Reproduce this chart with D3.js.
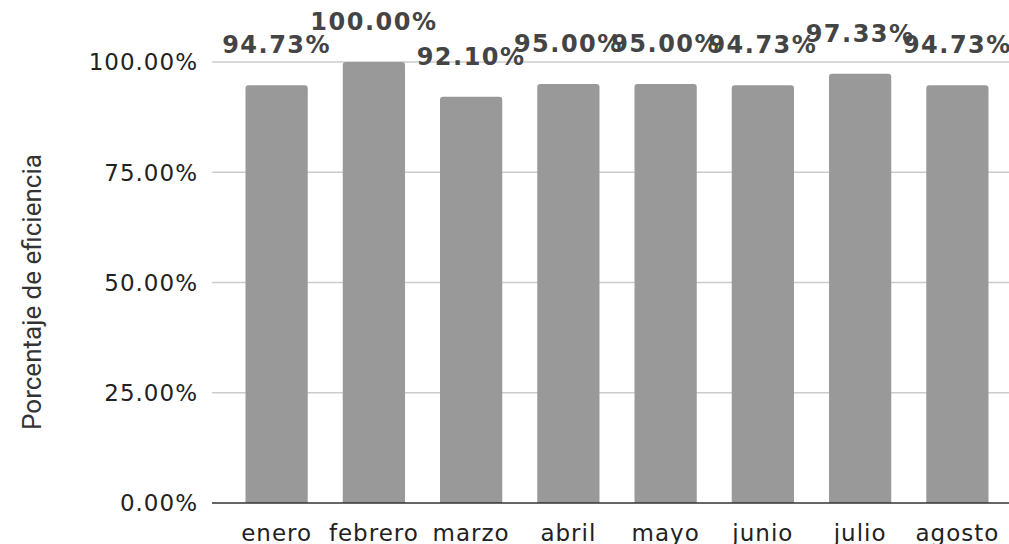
<!DOCTYPE html>
<html>
<head>
<meta charset="utf-8">
<script src="https://cdn.jsdelivr.net/npm/d3@7"></script>
<style>
  body { margin: 0; background: #fff; }
</style>
</head>
<body>
<svg id="chart"></svg>
<script>
// months and efficiency values (fraction)
const months = ["enero", "febrero", "marzo", "abril", "mayo", "junio", "julio", "agosto"];
const efficiency = [0.9473, 1.0, 0.9210, 0.95, 0.95, 0.9473, 0.9733, 0.9473];
const yTicks = [0, 0.25, 0.5, 0.75, 1.0];

const width = 1009, height = 544;
const margin = { top: 62, bottom: 41, left: 228, right: 3 };

const svg = d3.select("#chart")
    .attr("width", width)
    .attr("height", height);

const data = months.map((m, i) => ({ month: m, value: efficiency[i] }));

const xScale = d3.scaleBand()
    .domain(months)
    .range([margin.left, width - margin.right])
    .paddingInner(0.36)
    .paddingOuter(0.18);

const yScale = d3.scaleLinear()
    .domain([0, 1])
    .range([height - margin.bottom, margin.top]);

const fmt = d3.format(".2%");

// gridlines
svg.append("g")
    .selectAll("line")
    .data(yTicks.filter(d => d > 0))
    .join("line")
      .attr("x1", 212)
      .attr("x2", width)
      .attr("y1", d => yScale(d))
      .attr("y2", d => yScale(d))
      .attr("stroke", "#cccccc")
      .attr("stroke-width", 1.5);

// y tick labels
svg.append("g")
    .selectAll("text")
    .data(yTicks)
    .join("text")
      .attr("x", 198)
      .attr("y", d => yScale(d))
      .attr("dy", "0.36em")
      .attr("text-anchor", "end")
      .attr("font-family", "DejaVu Sans, Verdana, sans-serif")
      .attr("font-size", "23px")
      .attr("letter-spacing", "1px")
      .attr("fill", "#222")
      .text(d => fmt(d));

// bars with rounded tops
const r = 3;
svg.append("g")
    .selectAll("path")
    .data(data)
    .join("path")
      .attr("fill", "#999999")
      .attr("d", d => {
        const x0 = xScale(d.month), w = xScale.bandwidth();
        const y0 = yScale(d.value), y1 = yScale(0);
        return `M${x0},${y1} L${x0},${y0 + r} Q${x0},${y0} ${x0 + r},${y0}` +
               ` L${x0 + w - r},${y0} Q${x0 + w},${y0} ${x0 + w},${y0 + r} L${x0 + w},${y1} Z`;
      });

// baseline
svg.append("line")
    .attr("x1", 212)
    .attr("x2", width)
    .attr("y1", yScale(0))
    .attr("y2", yScale(0))
    .attr("stroke", "#333")
    .attr("stroke-width", 1.5);

// value labels
svg.append("g")
    .selectAll("text")
    .data(data)
    .join("text")
      .attr("x", d => xScale(d.month) + xScale.bandwidth() / 2)
      .attr("y", d => yScale(d.value) - 32)
      .attr("text-anchor", "middle")
      .attr("font-family", "DejaVu Sans, Verdana, sans-serif")
      .attr("font-weight", "bold")
      .attr("font-size", "24px")
      .attr("letter-spacing", "1.5px")
      .attr("fill", "#444")
      .text(d => fmt(d.value));

// x labels
svg.append("g")
    .selectAll("text")
    .data(months)
    .join("text")
      .attr("x", d => xScale(d) + xScale.bandwidth() / 2)
      .attr("y", 541)
      .attr("text-anchor", "middle")
      .attr("font-family", "DejaVu Sans, Verdana, sans-serif")
      .attr("font-size", "23px")
      .attr("letter-spacing", "1px")
      .attr("fill", "#222")
      .text(d => d);

// y axis title
svg.append("text")
    .attr("transform", "translate(41,292) rotate(-90)")
    .attr("text-anchor", "middle")
    .attr("font-family", "Roboto, sans-serif")
    .attr("font-size", "26px")
    .attr("fill", "#333")
    .text("Porcentaje de eficiencia");
</script>
</body>
</html>
